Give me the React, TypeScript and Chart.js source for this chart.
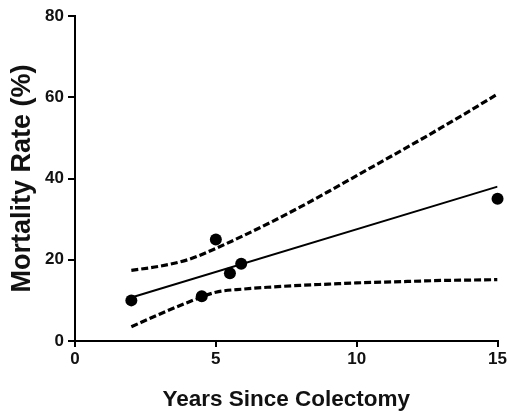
import React, { useEffect, useRef } from "react";
import { Chart, registerables } from "chart.js";

Chart.register(...registerables);

const observedX = [2, 4.5, 5, 5.5, 5.9, 15];
const observedY = [10, 11, 25, 16.7, 19, 35];

const fitX = [2, 15];
const fitY = [10.7, 38];

const bandX = [2, 3, 4, 5, 6, 7, 8, 9, 10, 11, 12, 13, 14, 15];
const upperY = [17.4, 18.4, 20, 22.8, 26, 29.4, 33, 36.8, 40.7, 44.6, 48.5, 52.5, 56.6, 60.8];
const lowerY = [3.5, 6.6, 9.5, 12, 12.8, 13.3, 13.7, 14, 14.3, 14.5, 14.7, 14.9, 15, 15.1];

const xTicks = [0, 5, 10, 15];
const yTicks = [0, 20, 40, 60, 80];

const FONT = "'Liberation Sans', Arial, sans-serif";

export default function App() {
  const ref = useRef<HTMLCanvasElement | null>(null);
  useEffect(() => {
    if (!ref.current) return;
    const pts = (xs: number[], ys: number[]) => xs.map((x, i) => ({ x, y: ys[i] }));
    const chart = new Chart(ref.current, {
      type: "scatter",
      data: {
        datasets: [
          {
            type: "scatter",
            data: pts(observedX, observedY),
            pointRadius: 6,
            pointBackgroundColor: "#000",
            pointBorderColor: "#000",
            pointBorderWidth: 0,
            clip: false,
          } as any,
          {
            type: "line",
            data: pts(fitX, fitY),
            borderColor: "#000",
            borderWidth: 2,
            pointRadius: 0,
            fill: false,
          },
          {
            type: "line",
            data: pts(bandX, upperY),
            borderColor: "#000",
            borderWidth: 3.2,
            borderDash: [7, 3],
            pointRadius: 0,
            cubicInterpolationMode: "monotone",
            fill: false,
          },
          {
            type: "line",
            data: pts(bandX, lowerY),
            borderColor: "#000",
            borderWidth: 3.2,
            borderDash: [7, 3],
            pointRadius: 0,
            cubicInterpolationMode: "monotone",
            fill: false,
          },
        ],
      },
      options: {
        animation: false,
        responsive: false,
        maintainAspectRatio: false,
        layout: { padding: { top: 16, right: 11, left: 0, bottom: 0 } },
        plugins: { legend: { display: false }, tooltip: { enabled: false } },
        scales: {
          x: {
            type: "linear",
            min: 0,
            max: 15,
            afterBuildTicks: (s: any) => {
              s.ticks = xTicks.map((v) => ({ value: v }));
            },
            afterFit: (s: any) => {
              s.height = 73;
            },
            ticks: {
              color: "#111",
              font: { family: FONT, size: 17, weight: "bold" },
              padding: 2,
              maxRotation: 0,
            },
            grid: {
              display: true,
              drawOnChartArea: false,
              drawTicks: true,
              tickLength: 6,
              color: "#000",
              lineWidth: 2,
            },
            border: { display: true, color: "#000", width: 2 },
            title: {
              display: true,
              text: "Years Since Colectomy",
              color: "#111",
              font: { family: FONT, size: 22.5, weight: "bold" },
              padding: { top: 0, bottom: 1 },
            },
          },
          y: {
            type: "linear",
            min: 0,
            max: 80,
            afterBuildTicks: (s: any) => {
              s.ticks = yTicks.map((v) => ({ value: v }));
            },
            afterFit: (s: any) => {
              s.width = 75;
            },
            ticks: {
              color: "#111",
              font: { family: FONT, size: 17, weight: "bold" },
              padding: 4,
            },
            grid: {
              display: true,
              drawOnChartArea: false,
              drawTicks: true,
              tickLength: 7,
              color: "#000",
              lineWidth: 2,
            },
            border: { display: true, color: "#000", width: 2 },
            title: {
              display: true,
              text: "Mortality Rate (%)",
              color: "#111",
              font: { family: FONT, size: 27, weight: "bold" },
              padding: { top: 6, bottom: 0 },
            },
          },
        },
      },
    });
    return () => chart.destroy();
  }, []);
  return (
    <div style={{ position: "fixed", left: 0, top: 0, width: 509, height: 414, background: "#fff" }}>
      <canvas ref={ref} width={509} height={414} style={{ width: 509, height: 414, display: "block" }} />
    </div>
  );
}
